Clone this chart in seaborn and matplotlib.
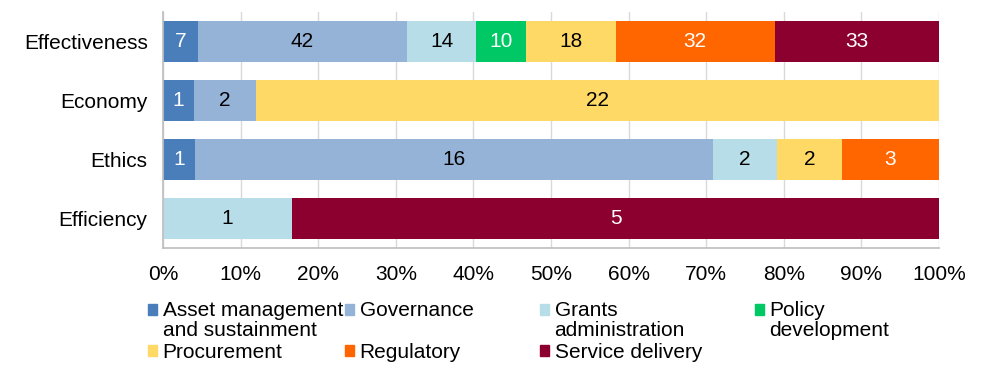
import numpy as np
import pandas as pd
import matplotlib.pyplot as plt
import matplotlib.patches as mpatches
from matplotlib.legend_handler import HandlerPatch
import seaborn as sns

categories = ["Effectiveness", "Economy", "Ethics", "Efficiency"]
series = ["Asset management\nand sustainment", "Governance", "Grants\nadministration",
          "Policy\ndevelopment", "Procurement", "Regulatory", "Service delivery"]
asset = [7, 1, 1, 0]
governance = [42, 2, 16, 0]
grants = [14, 0, 2, 1]
policy = [10, 0, 0, 0]
procurement = [18, 22, 2, 0]
regulatory = [32, 0, 3, 0]
service = [33, 0, 0, 5]
colors = ["#4A7EBB", "#95B3D7", "#B7DEE8", "#00C864", "#FFD966", "#FF6600", "#8B002E"]
text_colors = ["white", "black", "black", "white", "black", "white", "white"]

sns.set_theme(style="white")
plt.rcParams["font.family"] = ["Liberation Sans", "DejaVu Sans"]
plt.rcParams["text.color"] = "black"
plt.rcParams["xtick.color"] = "black"
plt.rcParams["ytick.color"] = "black"

FS = 15

counts = np.array([asset, governance, grants, policy, procurement, regulatory, service], dtype=float)
pct = counts / counts.sum(axis=0) * 100
cum = np.cumsum(pct, axis=0)

fig = plt.figure(figsize=(9.89, 3.79), dpi=100)
ax = fig.add_axes([163 / 989, 1 - 248 / 379, (939 - 163) / 989, 236 / 379])

# draw cumulative bars from the back so each segment shows
for i in reversed(range(len(series))):
    df = pd.DataFrame({"cat": categories, "val": cum[i]})
    sns.barplot(data=df, x="val", y="cat", color=colors[i], width=0.68,
                saturation=1, linewidth=0, ax=ax, zorder=2)

for i in range(len(series)):
    for j in range(len(categories)):
        if counts[i, j] > 0:
            ax.text(cum[i, j] - pct[i, j] / 2, j, f"{int(counts[i, j])}",
                    ha="center", va="center", fontsize=FS, color=text_colors[i], zorder=3)

ax.set_xlim(0, 100)
ax.set_ylim(3.5, -0.5)
ax.set_xticks(np.arange(0, 101, 10))
ax.set_xticklabels([f"{v}%" for v in range(0, 101, 10)], fontsize=FS)
ax.tick_params(axis="y", labelsize=FS, length=0, pad=11)
ax.tick_params(axis="x", length=0, pad=12)
ax.set_xlabel("")
ax.set_ylabel("")
ax.grid(axis="x", color="#D9D9D9", linewidth=1, zorder=0)
ax.set_axisbelow(True)
for s in ["top", "right"]:
    ax.spines[s].set_visible(False)
for s in ["left", "bottom"]:
    ax.spines[s].set_color("#BFBFBF")


def top_square(legend, orig_handle, xdescent, ydescent, width, height, fontsize):
    # keep the marker next to the first line of a wrapped label
    shift = fontsize * 0.55 if getattr(orig_handle, "two_line", False) else 0
    return mpatches.Rectangle((-xdescent, -ydescent + shift), width, height)


# legend laid out in four columns like the original
col_x = [148, 345, 540, 755]
order = [[0, 4], [1, 5], [2, 6], [3]]
for cx, idx in zip(col_x, order):
    handles = []
    labels = []
    for k in idx:
        h = mpatches.Patch(color=colors[k])
        lab = series[k] if ("\n" in series[k] or k >= 4) else series[k] + "\n "
        h.two_line = "\n" in lab
        handles.append(h)
        labels.append(lab)
    leg = fig.legend(handles, labels, loc="upper left", bbox_to_anchor=(cx / 989, 1 - 301 / 379),
                     frameon=False, fontsize=FS, handlelength=0.45, handleheight=0.45,
                     handletextpad=0.25, labelspacing=0.12, borderpad=0, borderaxespad=0,
                     handler_map={mpatches.Patch: HandlerPatch(patch_func=top_square)})
    for t in leg.get_texts():
        t.set_linespacing(1.08)

fig.savefig("out.png", dpi=100)
